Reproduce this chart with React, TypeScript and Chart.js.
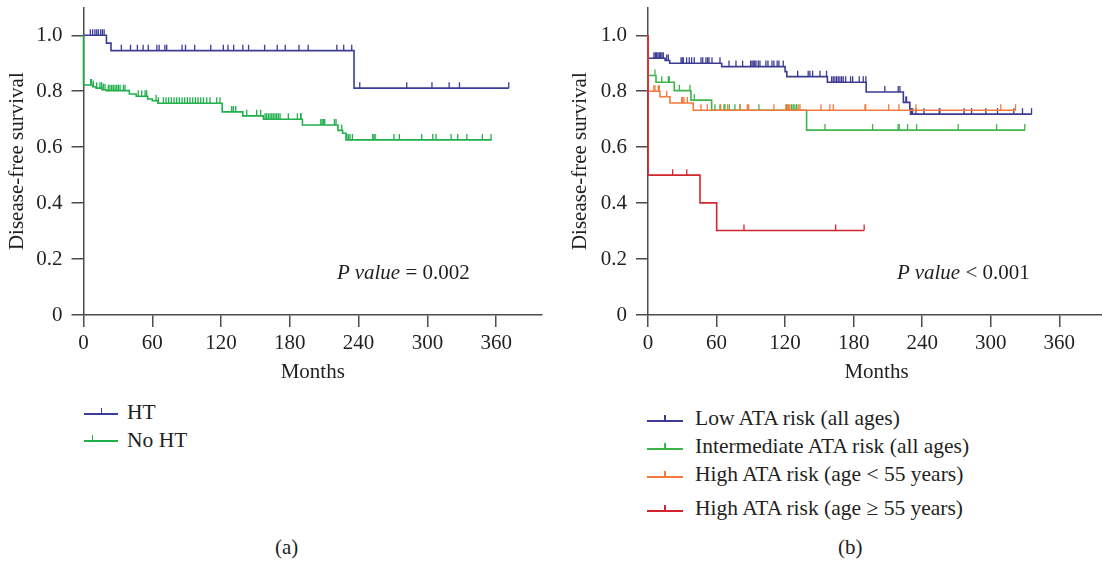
import React, { useEffect, useRef } from 'react';
import { Chart, registerables } from 'chart.js';

Chart.register(...registerables);

const FONT = '"Liberation Serif", "Times New Roman", serif';
const AXIS = '#4d4d4d';
const TEXT = '#231f20';
const FS = 21;

// ---------- Panel (a) ----------
const panelASeries = ['HT', 'No HT'];
const panelAColors = ['#3b3c97', '#1faf4b'];

const htTimes = [0, 20, 24, 236, 371];
const htSurv = [1.0, 0.972, 0.945, 0.811, 0.811];
const htCensor = [6, 8, 10, 11.5, 13, 15, 16.5, 18, 33, 41, 47, 52, 56.5, 64, 66, 71, 72.6, 86, 89, 97, 111, 122, 126, 131, 139, 144, 158, 169, 176, 188, 196, 221, 227, 234, 241, 282, 304, 319, 328, 371];

const noHtTimes = [0, 0, 8, 11, 16, 20, 40, 46, 56, 60, 65, 121, 139, 157, 191, 222, 226, 229, 356];
const noHtSurv = [1.0, 0.822, 0.816, 0.811, 0.805, 0.802, 0.79, 0.782, 0.772, 0.766, 0.757, 0.726, 0.712, 0.7, 0.679, 0.66, 0.65, 0.626, 0.626];
const noHtCensor = [6.3, 7.1, 8.6, 11.5, 14.4, 15.9, 17.3, 18.8, 21.7, 23.1, 24.6, 26, 27.5, 29, 30.4, 31.9, 34.8, 36.2, 47.8, 50.8, 53.7, 55.1, 63.3, 65.3, 69.7, 72, 74.3, 76.6, 79, 81.3, 83.6, 86, 88.3, 90.6, 92.9, 95.3, 97.6, 99.9, 102.3, 104.6, 107.5, 110.4, 116.2, 119.1, 129.3, 130.7, 132.8, 142.4, 151.1, 154.6, 158.4, 159.8, 161.3, 162.7, 164.2, 165.6, 167.1, 168.5, 170, 171.5, 178.7, 186.6, 189.5, 189.8, 207, 208.1, 209.3, 210.4, 218.9, 220.3, 225.3, 229.7, 231.1, 232.5, 234.6, 252.3, 253.5, 254.4, 270.9, 275.6, 295.1, 304.7, 307.6, 320.7, 326.5, 334.4, 348, 355.6];

// ---------- Panel (b) ----------
const panelBSeries = [
  'Low ATA risk (all ages)',
  'Intermediate ATA risk (all ages)',
  'High ATA risk (age < 55 years)',
  'High ATA risk (age \u2265 55 years)',
];
const panelBColors = ['#3b3a94', '#3cb54a', '#f4793a', '#d3252e'];

const lowTimes = [0, 0, 15, 19, 64.5, 120, 121.5, 157, 191, 223.5, 229.2, 229.8, 336];
const lowSurv = [1.0, 0.918, 0.91, 0.9, 0.888, 0.87, 0.852, 0.832, 0.797, 0.76, 0.736, 0.718, 0.718];
const lowCensor = [5.2, 6.4, 7.6, 8.7, 9.9, 11.1, 12.2, 13.4, 16.4, 17.8, 28.9, 30, 30.9, 33.8, 36.1, 38.2, 40.5, 46.4, 47.9, 50.7, 52.2, 53.4, 56, 63, 70.9, 77, 82.8, 89.8, 91, 92.1, 93.4, 94.5, 96.5, 98, 103.2, 105, 108.5, 110.2, 113.1, 114.6, 118.4, 131, 140.2, 141.7, 144.1, 150.5, 156.3, 160.7, 162.1, 163.6, 165.1, 166.5, 168, 169.5, 170.9, 173, 177.3, 179.1, 184.9, 190.7, 188.4, 207.3, 219, 220.5, 225.7, 226.3, 230.7, 231.6, 234.5, 241.5, 254.9, 255.5, 276.7, 283.2, 295.7, 305.9, 320.2, 327.8, 335.7];

const intTimes = [0, 0, 7, 23, 37.6, 55.7, 138.8, 330];
const intSurv = [1.0, 0.856, 0.832, 0.802, 0.768, 0.732, 0.661, 0.661];
const intCensor = [6.1, 12, 17.8, 18.7, 27.4, 36.7, 40.5, 58.6, 63, 66.5, 67.4, 71.2, 76.1, 80.5, 97.1, 121.3, 125.7, 127.1, 128.6, 130.1, 154.9, 196.6, 219, 219.9, 227.2, 235.1, 271.5, 305.1, 329.8];

const highYTimes = [0, 0, 10.5, 19.2, 39.6, 322];
const highYSurv = [1.0, 0.8, 0.78, 0.758, 0.732, 0.732];
const highYCensor = [5.2, 6.1, 9, 9.9, 16.4, 29.5, 30.4, 31.5, 34.4, 46.4, 51.9, 63.6, 69.7, 80.5, 86.9, 88.1, 110.2, 120.7, 121.9, 123.1, 124.2, 131.5, 133, 151.4, 159.2, 162.1, 189.9, 190.5, 210.7, 219.6, 234.5, 308.8, 321.7];

const highOTimes = [0, 0, 45.5, 60.1, 189];
const highOSurv = [1.0, 0.5, 0.401, 0.302, 0.302];
const highOCensor = [21.6, 33.9, 84, 164.2, 189.2];

const monthTickStep = 60;
const monthMax = 400;
const survTickStep = 0.2;
const survMax = 1.1;

function survAt(times: number[], surv: number[], t: number) {
  let s = surv[0];
  for (let i = 0; i < times.length; i++) {
    if (times[i] <= t) s = surv[i];
    else break;
  }
  return s;
}

function kmDatasets(times: number[], surv: number[], censor: number[], color: string) {
  return [
    {
      type: 'line',
      data: times.map((t, i) => ({ x: t, y: surv[i] })),
      stepped: 'before',
      borderColor: color,
      borderWidth: 1.6,
      pointRadius: 0,
      fill: false,
      clip: 6,
    },
    {
      type: 'line',
      data: censor.map((t) => ({ x: t, y: survAt(times, surv, t) })),
      showLine: false,
      pointStyle: 'dash',
      pointRotation: -90,
      pointRadius: 6,
      pointBorderWidth: 1.3,
      pointBorderColor: color,
      pointBackgroundColor: color,
      borderColor: color,
      clip: 8,
    },
  ];
}

const CANVAS_H = 385;

function makeOptions(yAxisWidth: number, padRight: number, yTitlePad: number) {
  const font = { family: FONT, size: FS };
  return {
    animation: false,
    responsive: false,
    events: [],
    layout: { padding: { top: 7.3, right: padRight, left: 0, bottom: 0 } },
    plugins: { legend: { display: false }, tooltip: { enabled: false } },
    scales: {
      x: {
        type: 'linear',
        min: 0,
        max: monthMax,
        afterFit: (s: any) => {
          s.height = CANVAS_H - 315;
          s.paddingLeft = 0;
          s.paddingRight = 0;
        },
        border: { color: AXIS, width: 1.5 },
        grid: { drawOnChartArea: false, drawTicks: true, tickLength: 12, color: AXIS, lineWidth: 1.5 },
        ticks: {
          stepSize: monthTickStep,
          includeBounds: false,
          color: TEXT,
          font,
          padding: 4,
          maxRotation: 0,
          autoSkip: false,
        },
        title: { display: true, text: 'Months', color: TEXT, font, padding: { top: 0, bottom: 0 } },
      },
      y: {
        type: 'linear',
        min: 0,
        max: survMax,
        afterFit: (s: any) => {
          s.width = yAxisWidth;
          s.paddingTop = 0;
          s.paddingBottom = 0;
        },
        border: { color: AXIS, width: 1.5 },
        grid: { drawOnChartArea: false, drawTicks: true, tickLength: 12, color: AXIS, lineWidth: 1.5 },
        ticks: {
          stepSize: survTickStep,
          includeBounds: false,
          color: TEXT,
          font,
          padding: 9,
          callback: (v: number) => (Math.abs(v) < 1e-9 ? '0' : v.toFixed(1)),
        },
        title: {
          display: true,
          text: 'Disease-free survival',
          color: TEXT,
          font,
          padding: { top: yTitlePad, bottom: 0 },
        },
      },
    },
  };
}

function KMChart(props: { datasets: any[]; left: number; width: number; yAxisWidth: number; padRight: number; yTitlePad: number }) {
  const ref = useRef<HTMLCanvasElement | null>(null);
  useEffect(() => {
    if (!ref.current) return;
    const chart = new Chart(ref.current, {
      type: 'line',
      data: { datasets: props.datasets },
      options: makeOptions(props.yAxisWidth, props.padRight, props.yTitlePad) as any,
    } as any);
    return () => chart.destroy();
  }, []);
  return (
    <canvas
      ref={ref}
      width={props.width}
      height={CANVAS_H}
      style={{ position: 'absolute', left: props.left, top: 0, width: props.width, height: CANVAS_H }}
    />
  );
}

function LegendRow(props: { color: string; label: string; lineLeft: number; lineWidth: number; tickX: number; y: number; textLeft: number; textY: number }) {
  return (
    <>
      <div style={{ position: 'absolute', left: props.lineLeft, top: props.y - 0.75, width: props.lineWidth, height: 1.5, background: props.color }} />
      <div style={{ position: 'absolute', left: props.tickX - 0.65, top: props.y - 6, width: 1.3, height: 6, background: props.color }} />
      <div
        style={{
          position: 'absolute',
          left: props.textLeft,
          top: props.textY - 14,
          fontFamily: FONT,
          fontSize: 21.5,
          lineHeight: '26px',
          color: TEXT,
          whiteSpace: 'nowrap',
        }}
      >
        {props.label}
      </div>
    </>
  );
}

export default function App() {
  const dsA = [
    ...kmDatasets(noHtTimes, noHtSurv, noHtCensor, panelAColors[1]),
    ...kmDatasets(htTimes, htSurv, htCensor, panelAColors[0]),
  ];
  const dsB = [
    ...kmDatasets(highOTimes, highOSurv, highOCensor, panelBColors[3]),
    ...kmDatasets(highYTimes, highYSurv, highYCensor, panelBColors[2]),
    ...kmDatasets(intTimes, intSurv, intCensor, panelBColors[1]),
    ...kmDatasets(lowTimes, lowSurv, lowCensor, panelBColors[0]),
  ];
  const textStyle: React.CSSProperties = {
    position: 'absolute',
    fontFamily: FONT,
    fontSize: FS,
    lineHeight: '26px',
    color: TEXT,
    whiteSpace: 'nowrap',
  };
  const rowsB = [419, 447, 475, 509];
  return (
    <div style={{ position: 'absolute', left: 0, top: 0, width: 1102, height: 563, overflow: 'hidden', background: '#fff' }}>
      <KMChart datasets={dsA} left={0} width={560} yAxisWidth={83.5} padRight={18} yTitlePad={5} />
      <KMChart datasets={dsB} left={560} width={560} yAxisWidth={88} padRight={15} yTitlePad={7.5} />

      <div style={{ ...textStyle, left: 337, top: 259 }}>
        <i>P value</i> = 0.002
      </div>
      <div style={{ ...textStyle, left: 897, top: 259 }}>
        <i>P value</i> &lt; 0.001
      </div>

      <LegendRow color={panelAColors[0]} label={panelASeries[0]} lineLeft={84} lineWidth={34} tickX={101.5} y={414} textLeft={127} textY={413} />
      <LegendRow color={panelAColors[1]} label={panelASeries[1]} lineLeft={84} lineWidth={34} tickX={92.5} y={441} textLeft={127} textY={441} />

      {panelBSeries.map((s, i) => (
        <LegendRow key={s} color={panelBColors[i]} label={s} lineLeft={647} lineWidth={36} tickX={665} y={rowsB[i] + 2} textLeft={695} textY={rowsB[i]} />
      ))}

      <div style={{ ...textStyle, left: 275, top: 534 }}>(a)</div>
      <div style={{ ...textStyle, left: 838, top: 534 }}>(b)</div>
    </div>
  );
}
